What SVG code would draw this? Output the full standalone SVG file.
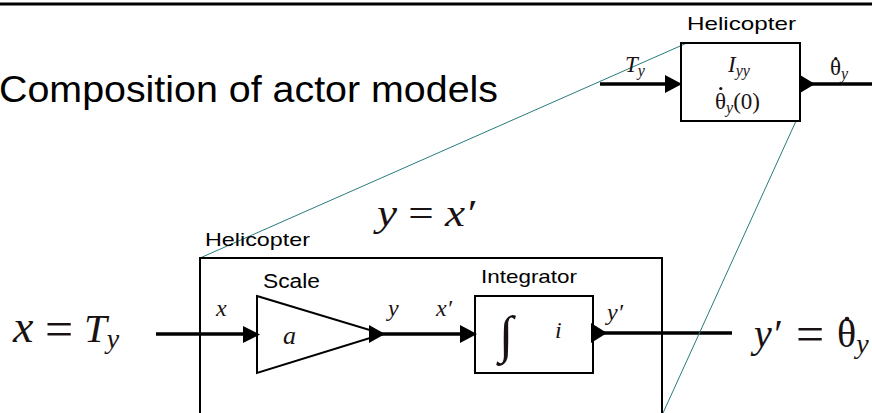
<svg xmlns="http://www.w3.org/2000/svg" width="872" height="413" viewBox="0 0 872 413">
<style>
.box{fill:none;stroke:#000;stroke-width:2}
.wire{fill:none;stroke:#000;stroke-width:3.5}
.port{fill:#000;stroke:none}
.zoom{fill:none;stroke:#2a7b7b;stroke-width:1}
.sans{font-family:"Liberation Sans",Arial,sans-serif;fill:#000}
.math{font-family:"Liberation Serif","Times New Roman",serif;fill:#1a1212}
.it{font-style:italic}
.dot{fill:#1a1212}
</style>
<rect width="872" height="413" fill="#fff"/>
<line x1="0" y1="4" x2="872" y2="4" stroke="#000" stroke-width="3"/>
<text class="sans" x="-1" y="102" font-size="36" textLength="499" lengthAdjust="spacingAndGlyphs">Composition of actor models</text>

<g id="connectors">
  <line class="wire" x1="600" y1="84" x2="670" y2="84"/>
  <polygon class="port" points="665,75 682,84 665,93"/>
  <line class="wire" x1="810" y1="84" x2="872" y2="84"/>
  <line class="wire" x1="156" y1="334" x2="250" y2="334"/>
  <polygon class="port" points="243,326 260,334.5 243,343"/>
  <line class="wire" x1="380" y1="334" x2="465" y2="334"/>
  <polygon class="port" points="460,325 477,334 460,343"/>
  <line class="wire" x1="600" y1="333" x2="732" y2="333"/>
  <line class="zoom" x1="687" y1="43" x2="200" y2="258"/>
  <line class="zoom" x1="796" y1="121" x2="663" y2="413"/>
</g>

<g id="helicopter-top">
  <text class="sans" x="687" y="30" font-size="19" textLength="109" lengthAdjust="spacingAndGlyphs">Helicopter</text>
  <rect class="box" x="681" y="43" width="119" height="78"/>
  <polygon class="port" points="800,75 815,84 800,93"/>
  <text class="math it" x="625" y="72" font-size="23">T<tspan font-size="16" dy="4">y</tspan></text>
  <text class="math it" x="728" y="72" font-size="23">I<tspan font-size="16" dy="4">yy</tspan></text>
  <text class="math" x="715" y="109" font-size="23">θ<tspan class="it" font-size="16" dy="4">y</tspan><tspan dy="-4">(0)</tspan></text>
  <circle class="dot" cx="720.8" cy="88.5" r="1.6"/>
  <text class="math" x="830" y="75" font-size="23">θ<tspan class="it" font-size="16" dy="4">y</tspan></text>
  <circle class="dot" cx="835.8" cy="58.5" r="1.6"/>
</g>

<g id="helicopter">
  <rect class="box" x="200" y="258" width="462" height="170" stroke-width="1.5"/>
  <text class="sans" x="205" y="246" font-size="19" textLength="105" lengthAdjust="spacingAndGlyphs">Helicopter</text>
  <text class="math" x="377" y="226" font-size="38" textLength="98" lengthAdjust="spacingAndGlyphs"><tspan class="it">y</tspan> = <tspan class="it">x′</tspan></text>
</g>

<g id="scale">
  <text class="sans" x="263" y="288" font-size="20" textLength="57" lengthAdjust="spacingAndGlyphs">Scale</text>
  <polygon class="box" points="257,296 383,334 257,373"/>
  <polygon class="port" points="369,325 385,334 369,343"/>
  <text class="math it" x="216" y="316" font-size="24">x</text>
  <text class="math it" x="283" y="344" font-size="26">a</text>
  <text class="math it" x="388" y="316" font-size="24">y</text>
</g>

<g id="integrator">
  <text class="sans" x="481" y="283" font-size="19" textLength="96" lengthAdjust="spacingAndGlyphs">Integrator</text>
  <rect class="box" x="475" y="296" width="118" height="77"/>
  <polygon class="port" points="591,323 607,333 591,343"/>
  <text class="math it" x="436" y="316" font-size="24">x′</text>
  <text class="math" x="499" y="352" font-size="52">∫</text>
  <text class="math it" x="555" y="338" font-size="24">i</text>
  <text class="math it" x="607" y="320" font-size="24">y′</text>
</g>

<g id="input-label">
  <text class="math" y="342"><tspan class="it" x="13" font-size="46">x</tspan><tspan x="45" font-size="50" dy="4">=</tspan><tspan class="it" x="84" font-size="41" dy="-4">T</tspan><tspan class="it" font-size="28" dy="6">y</tspan></text>
</g>
<g id="output-label">
  <text class="math" y="347"><tspan class="it" x="754" font-size="40">y′</tspan><tspan x="796" font-size="50" dy="4">=</tspan><tspan x="837" font-size="40" dy="-4">θ</tspan><tspan class="it" font-size="28" dy="6">y</tspan></text>
  <circle class="dot" cx="847" cy="319" r="2.3"/>
</g>
</svg>
